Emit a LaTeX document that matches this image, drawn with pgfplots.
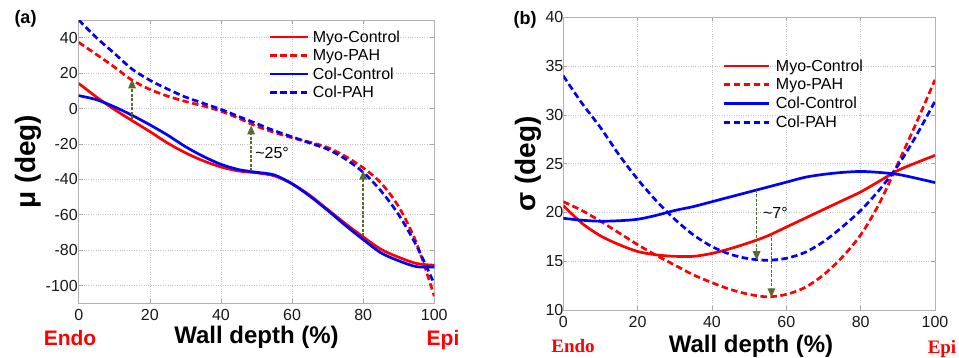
\documentclass[border=0pt]{standalone}
\usepackage{fontspec}
\setmainfont{Liberation Sans}
\newfontfamily\timesf{Liberation Serif}
\usepackage{pgfplots}
\usepackage{pgfplotstable}
\pgfplotsset{compat=1.18}
\usetikzlibrary{arrows.meta}
\definecolor{arr}{RGB}{85,107,47}
\definecolor{myred}{RGB}{255,0,0}
\definecolor{myblue}{RGB}{0,0,255}

\pgfplotstableread{
x myoC colC myoP colP
0 14.2 7.3 37.4 50
5 6.5 5.0 30.5 40
10 -0.5 1.0 23.5 31.2
15 -6.8 -3.8 16 22.3
20 -13 -9.2 10.8 16
25 -19.5 -15 7 11
30 -25 -21.5 4 6.5
35 -29.5 -27 1.5 3
40 -33 -31.5 -1.5 -0.5
45 -35.3 -34.5 -5.5 -4.5
50 -36.3 -36 -10 -8.5
55 -38 -37.5 -13.5 -12.5
60 -42.5 -42.5 -16.5 -16
65 -49 -49.5 -19 -19.5
70 -57 -57.5 -22 -23
75 -65 -66 -27 -28.5
80 -72.5 -74 -33.5 -36
85 -79.5 -81.5 -42 -46.5
90 -84 -86 -55.5 -60
95 -87.5 -89.3 -76 -77.5
100 -88.5 -89.5 -106 -99
}\tabA

\pgfplotstableread{
x myoC colC myoP colP
0 20.7 19.4 21.1 34.0
5 18.9 19.2 20.2 31.2
10 17.6 19.1 19.1 28.7
15 16.7 19.15 17.9 25.9
20 16.0 19.3 16.7 23.4
25 15.65 19.7 15.6 21.2
30 15.5 20.2 14.6 19.3
35 15.5 20.6 13.6 17.7
40 15.8 21.1 12.8 16.5
45 16.3 21.6 12.1 15.7
50 16.9 22.1 11.6 15.25
55 17.6 22.6 11.35 15.1
60 18.5 23.1 11.6 15.3
65 19.4 23.6 12.3 15.9
70 20.3 23.9 13.6 17.0
75 21.2 24.1 15.4 18.5
80 22.1 24.2 17.7 20.2
85 23.2 24.1 20.9 22.3
90 24.3 23.9 25.0 24.8
95 25.1 23.5 29.2 27.9
100 25.85 23.06 33.6 31.4
}\tabB

\pgfplotsset{
  matstyle/.style={
    scale only axis,
    axis line style={gray!60, line width=0.7pt},
    tick style={gray!70, line width=0.6pt},
    major tick length=4pt,
    tick align=inside,
    grid=major,
    major grid style={dotted, gray!45, line width=0.6pt},
    xmin=0, xmax=100,
    xtick={0,20,...,100},
    tick label style={font=\fontsize{16}{16}\selectfont, text=black!90},
    /pgf/number format/assume math mode=true,
    legend cell align=left,
  },
  curve/.style={line width=2.7pt, smooth},
  dashl/.style={dash pattern=on 6.5pt off 3.5pt},
  arrw/.style={arr, line width=1.6pt, dash pattern=on 3pt off 1.5pt, -{Triangle[width=7.5pt,length=9pt]}, forget plot},
}

\newcommand{\lstrut}{\rule[-4pt]{0pt}{16pt}}

\begin{document}
\begin{tikzpicture}
\begin{axis}[matstyle,
  at={(78.7pt,53.7pt)}, anchor=south west,
  width=355.6pt, height=283.3pt,
  ymin=-110, ymax=50,
  ytick={-100,-80,...,40},
  xticklabel style={yshift=-2pt},
  yticklabel style={xshift=2.6pt},
  legend image code/.code={\draw[#1] (0pt,0pt) -- (37pt,0pt);},
  legend style={at={(rel axis cs:0.535,0.968)}, anchor=north west, draw=none, fill=none,
    font=\fontsize{16}{16}\selectfont, inner sep=0pt, row sep=3pt,
    nodes={inner sep=1pt}, /tikz/every odd column/.style={column sep=3pt}},
]
\addplot[myred, curve] table[x=x,y=myoC] {\tabA};
\addlegendentry{\lstrut Myo-Control}
\addplot[myred, curve, dashl] table[x=x,y=myoP] {\tabA};
\addlegendentry{\lstrut Myo-PAH}
\addplot[myblue, curve] table[x=x,y=colC] {\tabA};
\addlegendentry{\lstrut Col-Control}
\addplot[myblue, curve, dashl] table[x=x,y=colP] {\tabA};
\addlegendentry{\lstrut Col-PAH}
\addplot[arrw] coordinates {(15,-6) (15,16.5)};
\addplot[arrw] coordinates {(48.5,-35.5) (48.5,-9.5)};
\addplot[arrw] coordinates {(80,-72) (80,-35)};
\node[anchor=west, inner sep=0pt, font=\fontsize{16}{16}\selectfont] at (axis cs:49.6,-25) {\textasciitilde25°};
\end{axis}

\begin{axis}[matstyle,
  at={(563.3pt,47pt)}, anchor=south west,
  width=371.7pt, height=292.7pt,
  ymin=10, ymax=40,
  ytick={10,15,...,40},
  xticklabel style={yshift=-2.7pt},
  yticklabel style={xshift=3.6pt},
  legend image code/.code={\draw[#1] (0pt,0pt) -- (45pt,0pt);},
  legend style={at={(rel axis cs:0.427,0.861)}, anchor=north west, draw=none, fill=none,
    font=\fontsize{16}{16}\selectfont, inner sep=0pt, row sep=3.3pt,
    nodes={inner sep=1pt}, /tikz/every odd column/.style={column sep=5pt}},
]
\addplot[myred, curve] table[x=x,y=myoC] {\tabB};
\addlegendentry{\lstrut Myo-Control}
\addplot[myred, curve, dashl] table[x=x,y=myoP] {\tabB};
\addlegendentry{\lstrut Myo-PAH}
\addplot[myblue, curve] table[x=x,y=colC] {\tabB};
\addlegendentry{\lstrut Col-Control}
\addplot[myblue, curve, dashl] table[x=x,y=colP] {\tabB};
\addlegendentry{\lstrut Col-PAH}
\addplot[arrw] coordinates {(52,22.3) (52,15.1)};
\addplot[arrw] coordinates {(56,17.8) (56,11.3)};
\node[anchor=west, inner sep=0pt, font=\fontsize{16}{16}\selectfont] at (axis cs:53.7,20) {\textasciitilde7°};
\end{axis}

% panel texts
\node[anchor=base, inner sep=0pt, font=\fontsize{18}{18}\bfseries] at (25.5pt,333pt) {(a)};
\node[anchor=base, inner sep=0pt, font=\fontsize{18}{18}\bfseries] at (525pt,332pt) {(b)};
\node[anchor=base, inner sep=0pt, font=\fontsize{24}{24}\bfseries] at (256.5pt,14pt) {Wall depth (\%)};
\node[anchor=base, inner sep=0pt, font=\fontsize{24}{24}\bfseries] at (751pt,5pt) {Wall depth (\%)};
\node[rotate=90, inner sep=0pt, font=\fontsize{28}{28}\bfseries] at (28pt,195.5pt) {μ (deg)};
\node[rotate=90, inner sep=0pt, font=\fontsize{28}{28}\bfseries] at (528pt,193pt) {σ (deg)};
\node[anchor=base, inner sep=0pt, text=myred, font=\fontsize{21}{21}\bfseries] at (70pt,12pt) {Endo};
\node[anchor=base, inner sep=0pt, text=myred, font=\fontsize{21}{21}\bfseries] at (443pt,12pt) {Epi};
\node[anchor=base, inner sep=0pt, text=myred, font=\fontsize{19}{19}\timesf\bfseries] at (573pt,5pt) {Endo};
\node[anchor=base, inner sep=0pt, text=myred, font=\fontsize{19}{19}\timesf\bfseries] at (942pt,4pt) {Epi};

\pgfresetboundingbox
\path[use as bounding box] (0pt,0pt) rectangle (959pt,357pt);
\end{tikzpicture}
\end{document}
